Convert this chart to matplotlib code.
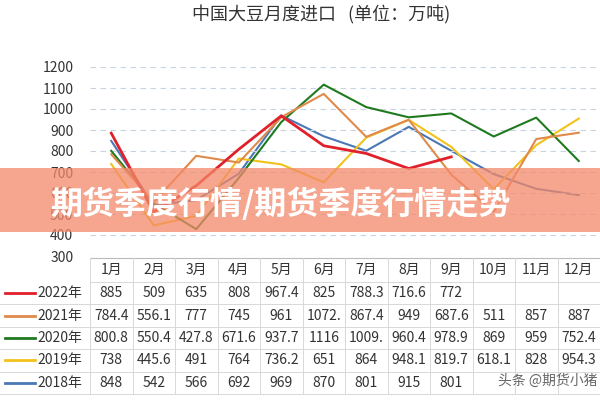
import matplotlib
matplotlib.use("Agg")
import matplotlib.pyplot as plt
import numpy as np

plt.rcParams['font.family'] = ['Noto Sans CJK SC', 'DejaVu Sans']

months = ["1月","2月","3月","4月","5月","6月","7月","8月","9月","10月","11月","12月"]
years = ["2022年","2021年","2020年","2019年","2018年"]
colors = ["#e0202a","#e08a4a","#1f7a1f","#f2c21b","#4a78b5"]
v2022 = [885,509,635,808,967.4,825,788.3,716.6,772]
v2021 = [784.4,556.1,777,745,961,1072,867.4,949,687.6,511,857,887]
v2020 = [800.8,550.4,427.8,671.6,937.7,1116,1009,960.4,978.9,869,959,752.4]
v2019 = [738,445.6,491,764,736.2,651,864,948.1,819.7,618.1,828,954.3]
v2018 = [848,542,566,692,969,870,801,915,801,690,620,590]
table_text = [
    ["885","509","635","808","967.4","825","788.3","716.6","772","","",""],
    ["784.4","556.1","777","745","961","1072.","867.4","949","687.6","511","857","887"],
    ["800.8","550.4","427.8","671.6","937.7","1116","1009.","960.4","978.9","869","959","752.4"],
    ["738","445.6","491","764","736.2","651","864","948.1","819.7","618.1","828","954.3"],
    ["848","542","566","692","969","870","801","915","801","","",""],
]
series = [v2022, v2021, v2020, v2019, v2018]

fig = plt.figure(figsize=(6,4), dpi=100)
ax = fig.add_axes([0.15, 0.36, 0.85, 0.4725])
for vals, c, lw, z in zip(series[::-1], colors[::-1], [1.5,1.5,1.5,1.5,2], [1,2,3,4,5]):
    ax.plot(np.arange(len(vals)), vals, color=c, lw=lw, zorder=z)
ax.set_xlim(-0.5, 11.5)
ax.set_ylim(300, 1200)
ax.set_yticks(range(300, 1201, 100))
ax.set_xticks([])
ax.tick_params(axis='y', length=0, labelsize=10, colors='#333333', pad=12)
ax.grid(axis='y', ls=(0,(5,4)), color='#c8d4e0', lw=0.8)
for s in ax.spines.values():
    s.set_visible(False)
fig.text(0.535, 0.962, "中国大豆月度进口   (单位：万吨)", ha='center', va='center', fontsize=13, color='#333333')

# table overlay
ov = fig.add_axes([0,0,1,1], zorder=10)
ov.set_xlim(0,600); ov.set_ylim(400,0); ov.axis('off')
x0, cw = 90, 42.5
top, hh, rh = 258, 24, 22.4
gc = '#d8d8d8'
ov.plot([x0,600],[top,top],color='#bbbbbb',lw=0.8)
for i in range(13):
    ov.plot([x0+i*cw]*2,[top,top+hh+5*rh],color=gc,lw=0.7)
for j in range(6):
    y = top+hh+j*rh
    ov.plot([0 if j>0 else x0,600],[y,y],color=gc,lw=0.7)
for i,m in enumerate(months):
    ov.text(x0+(i+0.5)*cw, top+hh/2, m, ha='center', va='center', fontsize=10, color='#333333')
for j,(yr,c) in enumerate(zip(years,colors)):
    yc = top+hh+(j+0.5)*rh
    ov.plot([5,35],[yc,yc],color=c,lw=2)
    ov.text(37, yc, yr, ha='left', va='center', fontsize=10, color='#333333')
    for i,t in enumerate(table_text[j]):
        ov.text(x0+(i+0.5)*cw, yc, t, ha='center', va='center', fontsize=10, color='#333333')
ov.text(598, 381, "头条 @期货小猪", ha='right', va='center', fontsize=10, color='#666666')

# banner
ov.add_patch(plt.Rectangle((0,168),600,64,color='#f4896a',alpha=0.75,lw=0))
ov.text(50, 204, "期货季度行情/期货季度行情走势", ha='left', va='center', fontsize=23, fontweight='bold', color='white')

fig.savefig("out.png", dpi=100)
